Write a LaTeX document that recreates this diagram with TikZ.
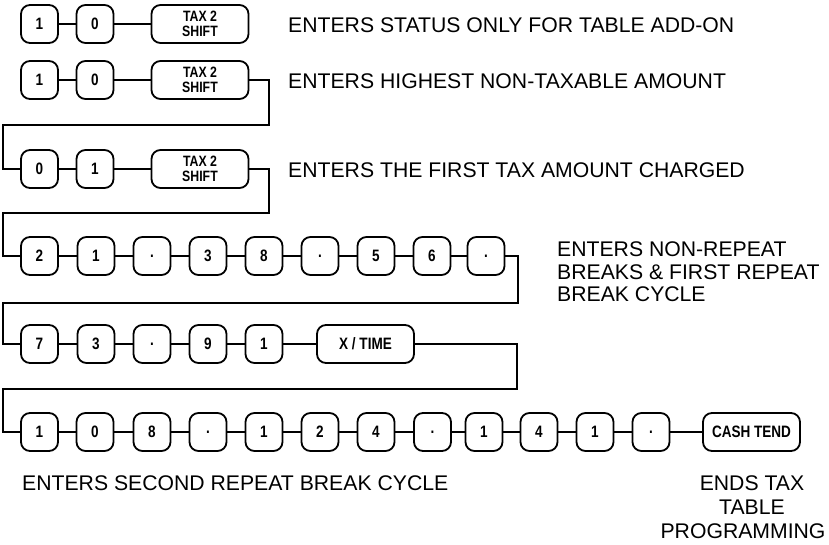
\documentclass[tikz,border=0pt]{standalone}
\usepackage{fontspec}
\setmainfont{Liberation Sans}
\newfontfamily\keyfont[FakeStretch=0.82]{Liberation Sans}
\begin{document}
\begin{tikzpicture}[x=1pt,y=-1pt,
  key/.style={draw, line width=1.8pt, rounded corners=9pt, minimum width=37pt, minimum height=38pt,
    inner sep=0pt, font=\keyfont\bfseries\fontsize{16.5}{15}\selectfont, align=center},
  widekey/.style={key, minimum width=97pt},
  taxkey/.style={widekey, font=\keyfont\bfseries\fontsize{15}{15}\selectfont},
  wire/.style={line width=1.8pt},
  lbl/.style={font=\fontsize{21.2}{22.5}\selectfont, inner sep=0pt, anchor=base west, align=left},
  clbl/.style={font=\fontsize{21.2}{24}\selectfont, inner sep=0pt, align=center}]
\useasboundingbox (0,0) rectangle (829,545);
% row 1
\node[key] (a1) at (39.5,24) {1};
\node[key] (a2) at (95,24) {0};
\node[taxkey] (a3) at (200,24) {TAX 2\\SHIFT};
\draw[wire] (a1) -- (a2) -- (a3);
% row 2
\node[key] (b1) at (39.5,80) {1};
\node[key] (b2) at (95,80) {0};
\node[taxkey] (b3) at (200,80) {TAX 2\\SHIFT};
\draw[wire] (b1) -- (b2) -- (b3);
% row 3
\node[key] (c1) at (39.5,169) {0};
\node[key] (c2) at (95,169) {1};
\node[taxkey] (c3) at (200,169) {TAX 2\\SHIFT};
\draw[wire] (c1) -- (c2) -- (c3);
% row 4
\node[key] (d1) at (39.5,256) {2};
\node[key] (d2) at (96,256) {1};
\node[key] (d3) at (152,256) {.};
\node[key] (d4) at (208,256) {3};
\node[key] (d5) at (264,256) {8};
\node[key] (d6) at (320,256) {.};
\node[key] (d7) at (376,256) {5};
\node[key] (d8) at (432,256) {6};
\node[key] (d9) at (486,256) {.};
\draw[wire] (d1) -- (d2) -- (d3) -- (d4) -- (d5) -- (d6) -- (d7) -- (d8) -- (d9);
% row 5
\node[key] (e1) at (39.5,344) {7};
\node[key] (e2) at (96,344) {3};
\node[key] (e3) at (152,344) {.};
\node[key] (e4) at (208,344) {9};
\node[key] (e5) at (264,344) {1};
\node[widekey] (e6) at (365.5,344) {X / TIME};
\draw[wire] (e1) -- (e2) -- (e3) -- (e4) -- (e5) -- (e6);
% row 6
\node[key] (f1) at (39.5,432) {1};
\node[key] (f2) at (95,432) {0};
\node[key] (f3) at (152,432) {8};
\node[key] (f4) at (208,432) {.};
\node[key] (f5) at (264,432) {1};
\node[key] (f6) at (320,432) {2};
\node[key] (f7) at (376,432) {4};
\node[key] (f8) at (432.5,432) {.};
\node[key] (f9) at (484,432) {1};
\node[key] (f10) at (539,432) {4};
\node[key] (f11) at (595,432) {1};
\node[key] (f12) at (651,432) {.};
\node[widekey] (f13) at (751.5,432) {CASH TEND};
\draw[wire] (f1) -- (f2) -- (f3) -- (f4) -- (f5) -- (f6) -- (f7) -- (f8) -- (f9) -- (f10) -- (f11) -- (f12) -- (f13);
% row links
\draw[wire] (b3.east) -| (269,125) -| (3,169) -- (c1.west);
\draw[wire] (c3.east) -| (269,213) -| (3,256) -- (d1.west);
\draw[wire] (d9.east) -| (518,303) -| (3,344) -- (e1.west);
\draw[wire] (e6.east) -| (517,389) -| (3,432) -- (f1.west);
% labels
\node[lbl] (t1) at (288,33) {ENTERS STATUS ONLY FOR TABLE ADD-ON};
\node[lbl] (t2) at (288,89) {ENTERS HIGHEST NON-TAXABLE AMOUNT};
\node[lbl] (t3) at (288,177.5) {ENTERS THE FIRST TAX AMOUNT CHARGED};
\node[lbl] (t4) at (557,301.5) {ENTERS NON-REPEAT\\BREAKS \& FIRST REPEAT\\BREAK CYCLE};
\node[lbl] (t5) at (22,490) {ENTERS SECOND REPEAT BREAK CYCLE};
\node[clbl, anchor=north] (t6) at (752,475) {ENDS TAX\\TABLE\\PROGRAMMING\kern18pt};
\end{tikzpicture}
\end{document}
